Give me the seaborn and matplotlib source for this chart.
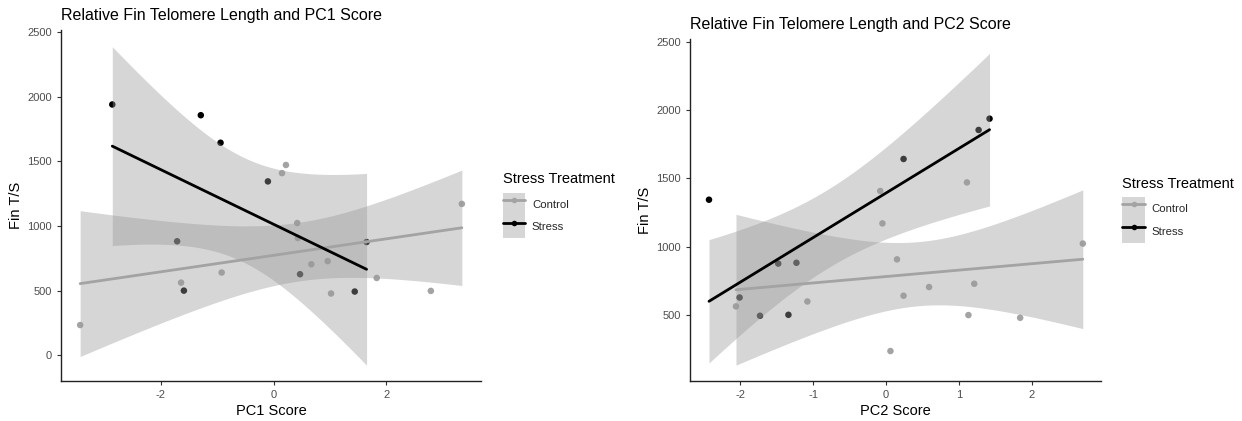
import numpy as np
import pandas as pd
import matplotlib
matplotlib.use("Agg")
import matplotlib.pyplot as plt
import seaborn as sns
from matplotlib.lines import Line2D
from matplotlib.patches import Patch

# valores
control_ts = [233, 561, 639, 1408, 1471, 1022, 906, 703, 727, 477, 597, 497, 1170]
control_pc1 = [-3.43, -1.64, -0.92, 0.15, 0.22, 0.42, 0.43, 0.67, 0.96, 1.02, 1.83, 2.79, 3.34]
control_pc2 = [0.06, -2.06, 0.24, -0.08, 1.11, 2.70, 0.15, 0.59, 1.21, 1.84, -1.08, 1.13, -0.05]

stress_ts = [1939, 1856, 1643, 1344, 881, 875, 626, 499, 492]
stress_pc1 = [-2.86, -1.29, -0.94, -0.10, -1.71, 1.65, 0.47, -1.59, 1.44]
stress_pc2 = [1.42, 1.27, 0.24, -2.43, -1.23, -1.48, -2.01, -1.34, -1.73]

groups = ["Control", "Stress"]
cores = {"Control": "#A3A3A3", "Stress": "#000000"}
fill_cor = "#999999"

df = pd.DataFrame({
    "Fin T/S": control_ts + stress_ts,
    "PC1 Score": control_pc1 + stress_pc1,
    "PC2 Score": control_pc2 + stress_pc2,
    "Stress Treatment": ["Control"] * len(control_ts) + ["Stress"] * len(stress_ts),
})

sns.set_style("ticks")
plt.rcParams["font.family"] = ["Liberation Sans", "DejaVu Sans"]
plt.rcParams["axes.unicode_minus"] = False


def t_crit(dfree, p=0.975):
    # quantil da t de Student por integracao numerica (sem scipy)
    grid = np.linspace(0, 20, 200001)
    pdf = (1 + grid ** 2 / dfree) ** (-(dfree + 1) / 2)
    cdf = np.concatenate([[0], np.cumsum((pdf[1:] + pdf[:-1]) / 2 * np.diff(grid))])
    cdf = 0.5 + 0.5 * cdf / cdf[-1]
    return np.interp(p, cdf, grid)


def faixa_ic(x, y, n_pts=80):
    # intervalo de confianca de 95% da reta (igual ao geom_smooth do ggplot)
    x = np.asarray(x, float)
    y = np.asarray(y, float)
    n = len(x)
    b1, b0 = np.polyfit(x, y, 1)
    res = y - (b0 + b1 * x)
    s = np.sqrt(np.sum(res ** 2) / (n - 2))
    sxx = np.sum((x - x.mean()) ** 2)
    xs = np.linspace(x.min(), x.max(), n_pts)
    yh = b0 + b1 * xs
    se = s * np.sqrt(1 / n + (xs - x.mean()) ** 2 / sxx)
    t = t_crit(n - 2)
    return xs, yh - t * se, yh + t * se


fig = plt.figure(figsize=(12.42, 4.21), dpi=100)
ax1 = fig.add_axes([0.0491, 0.095, 0.3382, 0.8337])
ax2 = fig.add_axes([0.5556, 0.095, 0.3309, 0.8124])


def painel(ax, xcol, titulo, xlim, ylim, y_tit, y_leg):
    # pontos primeiro, depois as faixas por cima (como no ggplot)
    sns.scatterplot(data=df, x=xcol, y="Fin T/S", hue="Stress Treatment",
                    palette=cores, s=22, linewidth=0, legend=False, ax=ax, zorder=1)
    for g in groups:
        sub = df[df["Stress Treatment"] == g]
        xs, lo, hi = faixa_ic(sub[xcol], sub["Fin T/S"])
        ax.fill_between(xs, lo, hi, color=fill_cor, alpha=0.4, linewidth=0, zorder=1.5)
        sns.regplot(data=sub, x=xcol, y="Fin T/S", scatter=False, ci=None,
                    color=cores[g], truncate=True, line_kws={"lw": 2.0, "zorder": 2}, ax=ax)
    ax.set_xlim(*xlim)
    ax.set_ylim(*ylim)
    ax.set_title(titulo, loc="left", fontsize=11.5, color="black", pad=7)
    ax.set_xlabel(xcol, fontsize=10.5, color="black", labelpad=3)
    ax.set_ylabel("Fin T/S", fontsize=10.5, color="black", labelpad=3)
    ax.tick_params(labelsize=8, colors="#4D4D4D", length=3, width=0.8)
    ax.tick_params(axis="both", color="#333333")
    for s in ["top", "right"]:
        ax.spines[s].set_visible(False)
    for s in ["left", "bottom"]:
        ax.spines[s].set_color("#222222")
        ax.spines[s].set_linewidth(1.0)

    # titulo da legenda separado, para deixar o espaco como no ggplot
    ax.text(1.052, y_tit, "Stress Treatment", transform=ax.transAxes,
            fontsize=10.5, ha="left", va="top", color="black")
    handles = []
    for g in groups:
        handles.append((Patch(facecolor="#D6D6D6", edgecolor="none"),
                        Line2D([], [], color=cores[g], lw=2.0, marker="o",
                               markersize=4, markeredgewidth=0)))
    ax.legend(handles=handles, labels=groups,
              loc="upper left", bbox_to_anchor=(1.052, y_leg),
              frameon=False, fontsize=8.2,
              handlelength=1.95, handleheight=2.7, labelspacing=0,
              handletextpad=0.6, borderpad=0, borderaxespad=0)


painel(ax1, "PC1 Score", "Relative Fin Telomere Length and PC1 Score",
       (-3.77, 3.68), (-200, 2515), 0.596, 0.536)
ax1.set_xticks([-2, 0, 2])
ax1.set_yticks([0, 500, 1000, 1500, 2000, 2500])

painel(ax2, "PC2 Score", "Relative Fin Telomere Length and PC2 Score",
       (-2.69, 2.95), (13, 2524), 0.597, 0.538)
ax2.set_xticks([-2, -1, 0, 1, 2])
ax2.set_yticks([500, 1000, 1500, 2000, 2500])

fig.savefig("out.png", dpi=100)
